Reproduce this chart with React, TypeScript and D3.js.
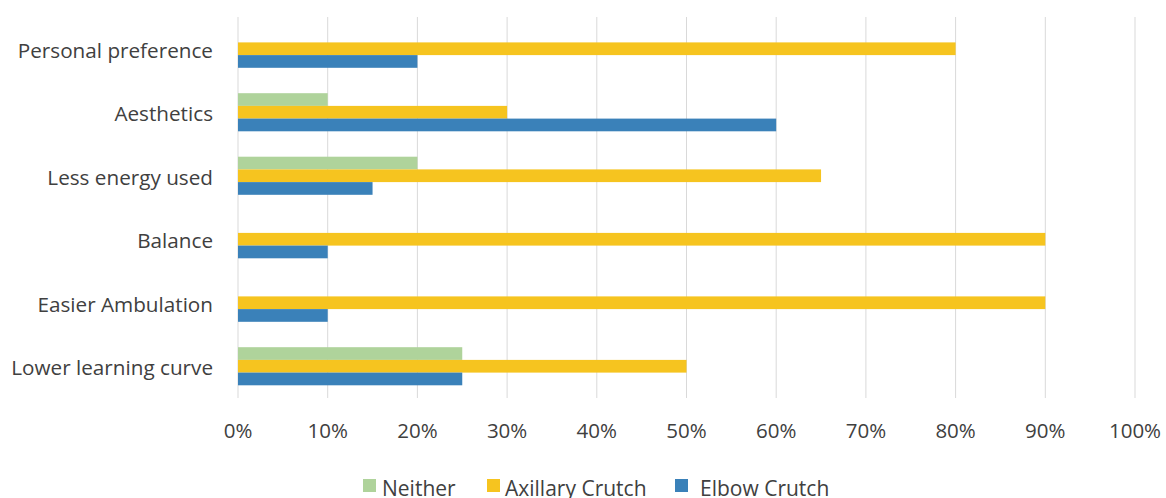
import React from "react";
import * as d3 from "d3";

const categories = [
  "Personal preference",
  "Aesthetics",
  "Less energy used",
  "Balance",
  "Easier Ambulation",
  "Lower learning curve",
];
const seriesNames = ["Neither", "Axillary Crutch", "Elbow Crutch"];
const neither = [0, 10, 20, 0, 0, 25];
const axillary = [80, 30, 65, 90, 90, 50];
const elbow = [20, 60, 15, 10, 10, 25];
const xTicks = [0, 10, 20, 30, 40, 50, 60, 70, 80, 90, 100];
const colors = ["#afd39b", "#f6c41f", "#3a81b9"];

export default function App() {
  const W = 1166, H = 498;
  const left = 238, right = 1135, top = 17, bottom = 398;
  const x = d3.scaleLinear().domain([0, 100]).range([left, right]);
  const y = d3.scaleBand().domain(categories).range([top, bottom]).paddingInner(0.4).paddingOuter(0.2);
  const inner = d3.scaleBand().domain(seriesNames).range([0, y.bandwidth()]);
  const values = [neither, axillary, elbow];
  const font = "'Open Sans', sans-serif";
  const swatchX = [363, 487, 675];
  const textX = [382, 505, 700];
  return (
    <svg width={W} height={H} style={{ position: "absolute", left: 0, top: 0, background: "#fff" }}>
      {xTicks.map((t) => (
        <line key={t} x1={x(t)} x2={x(t)} y1={top} y2={bottom} stroke="#d9d9d9" strokeWidth={1} />
      ))}
      {categories.map((c, ci) => (
        <g key={c}>
          {seriesNames.map((s, si) =>
            values[si][ci] > 0 ? (
              <rect
                key={s}
                x={x(0)}
                y={(y(c) as number) + (inner(s) as number)}
                width={x(values[si][ci]) - x(0)}
                height={inner.bandwidth()}
                fill={colors[si]}
              />
            ) : null
          )}
          <text
            x={213}
            y={(y(c) as number) + y.bandwidth() / 2 + 9}
            textAnchor="end"
            fontFamily={font}
            fontSize={20.7}
            fill="#404040"
          >
            {c}
          </text>
        </g>
      ))}
      {xTicks.map((t) => (
        <text key={t} x={x(t)} y={438} textAnchor="middle" fontFamily={font} fontSize={20.5} fill="#404040">
          {t}%
        </text>
      ))}
      {seriesNames.map((s, i) => (
        <g key={s}>
          <rect x={swatchX[i]} y={479} width={13} height={13} fill={colors[i]} />
          <text x={textX[i]} y={496} fontFamily={font} fontSize={21} fill="#404040">
            {s}
          </text>
        </g>
      ))}
    </svg>
  );
}
